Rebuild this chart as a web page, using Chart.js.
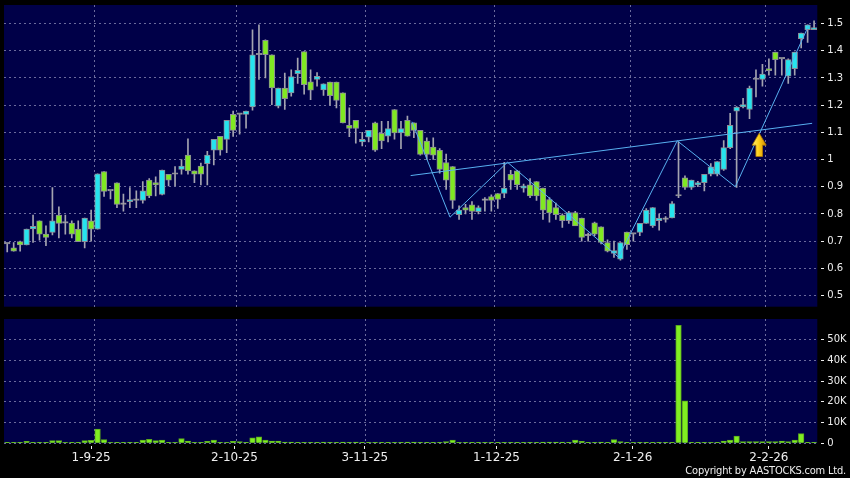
<!DOCTYPE html>
<html><head><meta charset="utf-8">
<script src="https://cdn.jsdelivr.net/npm/chart.js@4.4.1/dist/chart.umd.min.js"></script>
<style>
html,body{margin:0;padding:0;background:#000;width:850px;height:478px;overflow:hidden;}
canvas{position:absolute;left:0;}
#pc{top:0}
#vc{top:310px}
#copy{position:absolute;right:4px;top:463.7px;line-height:13px;color:#eeeeee;font-size:11px;font-family:"DejaVu Sans Condensed","DejaVu Sans",sans-serif;letter-spacing:-0.2px;white-space:nowrap;}
</style></head><body>
<canvas id="pc" width="850" height="310"></canvas>
<canvas id="vc" width="850" height="168"></canvas>
<div id="copy">Copyright by AASTOCKS.com Ltd.</div>
<script>
// ---- data (one entry per trading day, index 0..125) ----
const opens = [
0.69,0.675,0.698,0.686,0.745,0.775,0.726,0.732,0.796,0.766,
0.766,0.744,0.698,0.775,0.744,0.956,0.885,0.914,0.835,0.845,
0.85,0.85,0.924,0.915,0.872,0.946,0.946,0.964,1.016,0.958,
0.976,0.985,1.034,1.085,1.074,1.166,1.166,1.166,1.193,1.385,
1.438,1.385,1.196,1.263,1.245,1.316,1.397,1.286,1.294,1.256,
1.285,1.285,1.245,1.126,1.144,1.065,1.082,1.135,1.096,1.086,
1.184,1.098,1.144,1.135,1.107,1.068,1.046,1.034,0.989,0.974,
0.797,0.823,0.833,0.808,0.85,0.864,0.875,0.875,0.946,0.958,
0.895,0.907,0.919,0.895,0.853,0.823,0.796,0.775,0.805,0.785,
0.72,0.767,0.753,0.695,0.655,0.634,0.733,0.726,0.732,0.765,
0.756,0.775,0.78,0.785,0.866,0.933,0.897,0.907,0.915,0.946,
0.946,0.964,1.044,1.178,1.193,1.184,1.294,1.294,1.334,1.395,
1.37,1.306,1.334,1.444,1.477,1.477];
const highs = [
0.69,0.695,0.70,0.744,0.796,0.775,0.756,0.897,0.826,0.796,
0.775,0.775,0.785,0.814,0.947,0.956,0.885,0.914,0.873,0.897,
0.885,0.919,0.93,0.936,0.961,0.946,0.974,1.0,1.076,0.958,
0.987,1.03,1.074,1.085,1.144,1.178,1.166,1.178,1.477,1.495,
1.44,1.385,1.263,1.318,1.33,1.373,1.397,1.33,1.32,1.278,
1.285,1.285,1.245,1.19,1.144,1.10,1.107,1.138,1.14,1.14,
1.184,1.14,1.16,1.135,1.107,1.08,1.08,1.04,1.02,0.974,
0.83,0.835,0.845,0.83,0.86,0.87,0.875,0.99,0.96,0.96,
0.91,0.93,0.919,0.895,0.86,0.84,0.80,0.81,0.81,0.785,
0.73,0.77,0.753,0.705,0.70,0.695,0.733,0.726,0.765,0.82,
0.823,0.80,0.79,0.845,1.065,0.94,0.924,0.92,0.946,0.985,
0.992,1.07,1.17,1.195,1.225,1.27,1.33,1.35,1.37,1.395,
1.37,1.37,1.395,1.465,1.495,1.51];
const lows = [
0.66,0.663,0.663,0.686,0.695,0.704,0.683,0.723,0.712,0.726,
0.712,0.698,0.675,0.70,0.744,0.864,0.855,0.823,0.81,0.823,
0.823,0.84,0.86,0.866,0.87,0.903,0.903,0.946,0.946,0.915,
0.907,0.907,0.98,1.016,1.025,1.085,1.093,1.115,1.181,1.294,
1.30,1.202,1.19,1.184,1.233,1.28,1.24,1.22,1.27,1.236,
1.20,1.19,1.135,1.084,1.06,1.05,1.065,1.03,1.04,1.065,
1.075,1.04,1.086,1.08,1.016,1.0,1.0,0.95,0.89,0.82,
0.78,0.80,0.78,0.80,0.81,0.81,0.82,0.86,0.89,0.89,
0.88,0.86,0.85,0.78,0.77,0.78,0.75,0.765,0.765,0.70,
0.70,0.72,0.69,0.66,0.64,0.63,0.67,0.70,0.72,0.765,
0.75,0.74,0.77,0.785,0.86,0.89,0.89,0.90,0.885,0.94,
0.94,0.96,1.04,0.897,1.19,1.15,1.23,1.27,1.31,1.31,
1.31,1.28,1.31,1.41,1.43,1.477];
const closes = [
0.69,0.663,0.686,0.744,0.754,0.726,0.714,0.775,0.765,0.766,
0.726,0.698,0.785,0.744,0.947,0.883,0.885,0.835,0.835,0.853,
0.85,0.885,0.866,0.907,0.961,0.924,0.946,0.976,0.958,0.946,
0.946,1.016,1.074,1.034,1.144,1.107,1.166,1.178,1.385,1.385,
1.385,1.263,1.263,1.224,1.305,1.328,1.275,1.255,1.306,1.278,
1.235,1.217,1.135,1.114,1.114,1.074,1.107,1.034,1.068,1.114,
1.098,1.114,1.086,1.107,1.019,1.019,1.016,0.964,0.924,0.85,
0.814,0.814,0.809,0.823,0.85,0.85,0.853,0.895,0.924,0.907,
0.903,0.866,0.866,0.814,0.804,0.797,0.775,0.805,0.756,0.714,
0.72,0.726,0.695,0.663,0.665,0.695,0.687,0.726,0.765,0.814,
0.823,0.785,0.78,0.838,0.866,0.897,0.924,0.915,0.946,0.973,
0.992,1.044,1.126,1.193,1.202,1.263,1.294,1.314,1.327,1.367,
1.37,1.367,1.395,1.465,1.495,1.485];
const volumes = [
200,200,300,1000,300,300,200,1300,1300,500,
200,300,1300,1400,6900,1800,500,400,300,100,
200,1600,1900,1300,1600,300,500,2300,1100,200,
300,1000,1600,200,500,1000,800,300,2600,3100,
1600,1100,1100,600,600,200,300,200,300,600,
200,100,600,200,600,100,200,200,100,100,
100,200,600,600,300,300,200,200,800,1600,
500,100,100,200,100,100,100,100,100,100,
200,100,100,600,600,600,600,300,1600,1000,
100,200,600,100,1800,800,100,500,200,200,
200,100,100,300,56900,20500,200,100,300,500,
300,1100,1600,3500,800,800,800,800,800,800,
1100,800,1600,4700,300,200];

const dateLabels = ['1-9-25','2-10-25','3-11-25','1-12-25','2-1-26','2-2-26'];
const dateLabelPos = [13.0, 35.2, 55.4, 75.8, 96.9, 118.0];
const dateGridPos = [13.5, 35.5, 55.5, 75.5, 96.5, 117.5];
const priceTicks = [0.5,0.6,0.7,0.8,0.9,1.0,1.1,1.2,1.3,1.4,1.5];
const priceTickLabels = ['0.5','0.6','0.7','0.8','0.9','1','1.1','1.2','1.3','1.4','1.5'];
const volumeTicks = [0,10000,20000,30000,40000,50000];
const volumeTickLabels = ['0','10K','20K','30K','40K','50K'];

// hand-drawn pattern lines (candle-index, price)
const zigzagX = [62.7, 68.6, 77.5, 94.7, 103.8, 112.8, 124.2];
const zigzagY = [1.139, 0.788, 0.990, 0.641, 1.069, 0.900, 1.495];
const necklineX = [62.5, 124.7];
const necklineY = [0.941, 1.133];
const arrowX = 116.5, arrowTip = 1.097, arrowBase = 1.011;

// ---- styles ----
const NAVY = '#000048';
const GRID = '#6a6a9c';
const TEXT = '#eeeeee';
const UP = '#26e4ee';
const DOWN = '#80e822';
const DOJI = '#a8a8a8';
const WICK = '#a4a4b0';
const BODY_BORDER = '#8c8c96';
const LINE = '#58b0f0';
const VOL = '#80ee22';
const VOL_BORDER = '#5aa81c';
const FONT = 'DejaVu Sans';

const XMIN = -0.5, XMAX = opens.length - 0.5;
const RIGHT_AXIS_W = 850 - 817.3;

Chart.defaults.font.family = FONT;
Chart.defaults.animation = false;

const bgPlugin = {
  id: 'bg',
  beforeDraw(chart) {
    const {ctx, chartArea: a} = chart;
    ctx.save();
    ctx.fillStyle = NAVY;
    ctx.fillRect(a.left, a.top, a.right - a.left, a.bottom - a.top);
    ctx.restore();
  }
};

const arrowPlugin = {
  id: 'arrow',
  afterDatasetsDraw(chart) {
    const {ctx} = chart;
    const xs = chart.scales.x, ys = chart.scales.y;
    const cx = xs.getPixelForValue(arrowX);
    const ty = ys.getPixelForValue(arrowTip);
    const by = ys.getPixelForValue(arrowBase);
    const headH = 12, headW = 7, shaftW = 3.3;
    ctx.save();
    const g = ctx.createLinearGradient(cx - headW, 0, cx + headW, 0);
    g.addColorStop(0, '#fff27a');
    g.addColorStop(0.45, '#ffd21a');
    g.addColorStop(1, '#d08a00');
    ctx.fillStyle = g;
    ctx.strokeStyle = '#b07800';
    ctx.lineWidth = 0.8;
    ctx.beginPath();
    ctx.moveTo(cx, ty);
    ctx.lineTo(cx + headW, ty + headH);
    ctx.lineTo(cx + shaftW, ty + headH);
    ctx.lineTo(cx + shaftW, by);
    ctx.lineTo(cx - shaftW, by);
    ctx.lineTo(cx - shaftW, ty + headH);
    ctx.lineTo(cx - headW, ty + headH);
    ctx.closePath();
    ctx.fill();
    ctx.stroke();
    ctx.restore();
  }
};

function zeroPad(s) { s.paddingTop = 0; s.paddingBottom = 0; s.paddingLeft = 0; s.paddingRight = 0; }

const idx = opens.map((_, i) => i);
const bodyColors = idx.map(i => closes[i] > opens[i] ? UP : (closes[i] < opens[i] ? DOWN : DOJI));

new Chart(document.getElementById('pc'), {
  type: 'bar',
  data: {
    datasets: [
      {
        type: 'line',
        data: zigzagX.map((x, i) => ({x, y: zigzagY[i]})),
        borderColor: LINE, borderWidth: 1, pointRadius: 0, tension: 0, order: 1
      },
      {
        type: 'line',
        data: necklineX.map((x, i) => ({x, y: necklineY[i]})),
        borderColor: LINE, borderWidth: 1, pointRadius: 0, tension: 0, order: 1
      },
      {
        data: idx.map(i => ({x: i, y: [opens[i], closes[i]]})),
        backgroundColor: bodyColors,
        borderColor: BODY_BORDER,
        borderWidth: 1,
        borderSkipped: false,
        barThickness: 5.7,
        minBarLength: 1.5,
        grouped: false,
        order: 2
      },
      {
        data: idx.map(i => ({x: i, y: [lows[i], highs[i]]})),
        backgroundColor: WICK,
        borderWidth: 0,
        barThickness: 1,
        grouped: false,
        order: 3
      }
    ]
  },
  options: {
    responsive: false,
    animation: false,
    events: [],
    layout: {padding: {left: 4, top: 5, right: 0, bottom: 3.3}},
    plugins: {legend: {display: false}, tooltip: {enabled: false}},
    scales: {
      x: {
        type: 'linear', position: 'bottom', min: XMIN, max: XMAX, offset: false,
        afterBuildTicks(s) { s.ticks = dateGridPos.map(v => ({value: v})); },
        afterFit(s) { s.height = 0; zeroPad(s); },
        ticks: {display: false},
        grid: {color: GRID, lineWidth: 1, drawTicks: false, offset: false, borderDash: [2, 3]},
        border: {display: false, dash: [2, 3]}
      },
      y: {
        type: 'linear', position: 'right', min: 0.459, max: 1.568,
        afterBuildTicks(s) { s.ticks = priceTicks.map(v => ({value: v})); },
        afterFit(s) { s.width = RIGHT_AXIS_W; zeroPad(s); },
        ticks: {
          color: TEXT, font: {family: FONT, size: 10}, padding: 3,
          callback: (v, i) => priceTickLabels[i]
        },
        grid: {color: GRID, lineWidth: 1, drawTicks: true, tickLength: 7, tickColor: TEXT,
               tickBorderDash: [0, 4, 3, 40], borderDash: [2, 3]},
        border: {display: false, dash: [2, 3]}
      }
    }
  },
  plugins: [bgPlugin, arrowPlugin]
});

new Chart(document.getElementById('vc'), {
  type: 'bar',
  data: {
    datasets: [{
      data: idx.map(i => ({x: i, y: volumes[i]})),
      backgroundColor: VOL,
      borderColor: VOL_BORDER,
      borderWidth: 1,
      borderSkipped: 'start',
      barThickness: 5.6,
      minBarLength: 1,
      grouped: false,
      xAxisID: 'x'
    }]
  },
  options: {
    responsive: false,
    animation: false,
    events: [],
    layout: {padding: {left: 4, top: 9, right: 0, bottom: 0}},
    plugins: {legend: {display: false}, tooltip: {enabled: false}},
    scales: {
      x: {
        type: 'linear', position: 'bottom', weight: 0, min: XMIN, max: XMAX, offset: false,
        afterBuildTicks(s) { s.ticks = dateGridPos.map(v => ({value: v})); },
        afterFit(s) { s.height = 0; zeroPad(s); },
        ticks: {display: false},
        grid: {color: GRID, lineWidth: 1, drawTicks: false, offset: false, borderDash: [2, 3]},
        border: {display: false, dash: [2, 3]}
      },
      xd: {
        type: 'linear', position: 'bottom', weight: 1, min: XMIN, max: XMAX, offset: false,
        afterBuildTicks(s) { s.ticks = dateLabelPos.map(v => ({value: v})); },
        afterFit(s) { s.height = 168 - 133.3; zeroPad(s); },
        ticks: {
          color: TEXT, font: {family: FONT, size: 12}, padding: 1,
          maxRotation: 0, minRotation: 0, autoSkip: false,
          callback: (v, i) => dateLabels[i]
        },
        grid: {drawOnChartArea: false, drawTicks: true, tickLength: 6, tickColor: TEXT,
               tickBorderDash: [0, 3, 3, 40], offset: false},
        border: {display: false}
      },
      y: {
        type: 'linear', position: 'right', min: 0, max: 60000,
        afterBuildTicks(s) { s.ticks = volumeTicks.map(v => ({value: v})); },
        afterFit(s) { s.width = RIGHT_AXIS_W; zeroPad(s); },
        ticks: {
          color: TEXT, font: {family: FONT, size: 10}, padding: 3,
          callback: (v, i) => volumeTickLabels[i]
        },
        grid: {color: GRID, lineWidth: 1, drawTicks: true, tickLength: 7, tickColor: TEXT,
               tickBorderDash: [0, 4, 3, 40], borderDash: [2, 3]},
        border: {display: false, dash: [2, 3]}
      }
    }
  },
  plugins: [bgPlugin]
});
</script>
</body></html>
